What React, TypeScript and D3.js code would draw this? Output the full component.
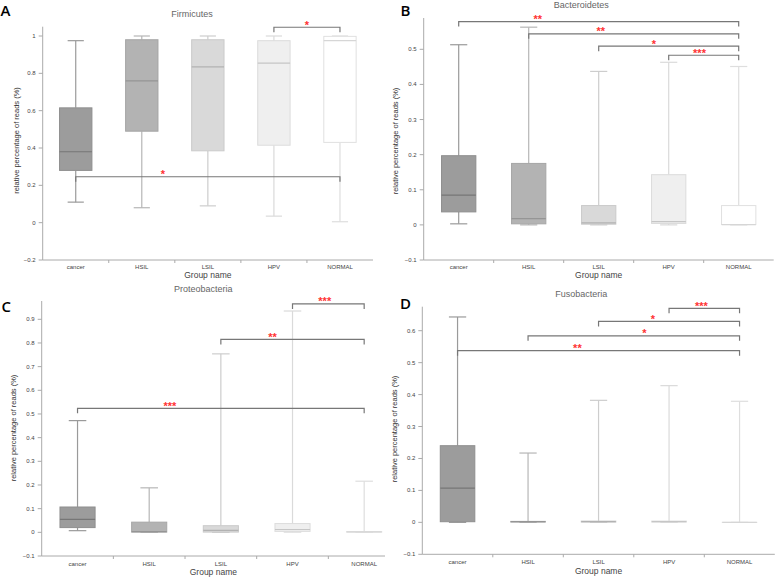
import React from "react";
import * as d3 from "d3";

const groups = ["cancer", "HSIL", "LSIL", "HPV", "NORMAL"];

// [min, q1, median, q3, max] per group
const firmicutesStats = [
  [0.11, 0.28, 0.38, 0.615, 0.975],
  [0.08, 0.49, 0.76, 0.98, 1.0],
  [0.09, 0.385, 0.835, 0.98, 1.0],
  [0.035, 0.415, 0.855, 0.975, 1.0],
  [0.005, 0.43, 0.975, 0.998, 1.0],
];
const bacteroidetesStats = [
  [0.003, 0.037, 0.085, 0.197, 0.513],
  [0.0, 0.003, 0.018, 0.175, 0.563],
  [0.0, 0.002, 0.006, 0.055, 0.437],
  [0.0, 0.004, 0.009, 0.143, 0.463],
  [0.0, 0.001, 0.001, 0.055, 0.451],
];
const proteobacteriaStats = [
  [0.007, 0.02, 0.055, 0.107, 0.472],
  [0.0, 0.001, 0.003, 0.043, 0.188],
  [0.0, 0.001, 0.008, 0.028, 0.754],
  [0.001, 0.004, 0.012, 0.037, 0.935],
  [0.0, 0.001, 0.002, 0.003, 0.216],
];
const fusobacteriaStats = [
  [0.0, 0.002, 0.107, 0.24, 0.643],
  [0.0, 0.001, 0.002, 0.003, 0.217],
  [0.0, 0.001, 0.002, 0.004, 0.382],
  [0.0, 0.001, 0.002, 0.004, 0.428],
  [0.0, 0.0, 0.0, 0.0, 0.379],
];

// significance brackets: from/to group index, bracket value, label, label position (category units)
const firmicutesSig = [
  { from: 3, to: 4, y: 1.047, label: "*", at: 3.5 },
  { from: 0, to: 4, y: 0.246, label: "*", at: 1.32 },
];
const bacteroidetesSig = [
  { from: 0, to: 4, y: 0.579, label: "**", at: 1.13 },
  { from: 1, to: 4, y: 0.544, label: "**", at: 2.03 },
  { from: 2, to: 4, y: 0.509, label: "*", at: 2.79 },
  { from: 3, to: 4, y: 0.483, label: "***", at: 3.44 },
];
const proteobacteriaSig = [
  { from: 3, to: 4, y: 0.965, label: "***", at: 3.45 },
  { from: 2, to: 4, y: 0.815, label: "**", at: 2.72 },
  { from: 0, to: 4, y: 0.524, label: "***", at: 1.29 },
];
const fusobacteriaSig = [
  { from: 3, to: 4, y: 0.67, label: "***", at: 3.46 },
  { from: 2, to: 4, y: 0.629, label: "*", at: 2.77 },
  { from: 1, to: 4, y: 0.584, label: "*", at: 2.65 },
  { from: 0, to: 4, y: 0.5375, label: "**", at: 1.7 },
];

const firmicutesTicks = [-0.2, 0, 0.2, 0.4, 0.6, 0.8, 1];
const bacteroidetesTicks = [-0.1, 0, 0.1, 0.2, 0.3, 0.4, 0.5];
const proteobacteriaTicks = [-0.1, 0, 0.1, 0.2, 0.3, 0.4, 0.5, 0.6, 0.7, 0.8, 0.9];
const fusobacteriaTicks = [-0.1, 0, 0.1, 0.2, 0.3, 0.4, 0.5, 0.6];

const fills = ["#9c9c9c", "#b3b3b3", "#d9d9d9", "#efefef", "#ffffff"];
const strokes = ["#8e8e8e", "#a6a6a6", "#cacaca", "#dcdcdc", "#e0e0e0"];
const medians = ["#767676", "#959595", "#b2b2b2", "#c6c6c6", "#d6d6d6"];
const whiskers = ["#9a9a9a", "#b6b6b6", "#cdcdcd", "#dadada", "#dedede"];

type Sig = { from: number; to: number; y: number; label: string; at: number };

type PanelProps = {
  letter: string;
  title: string;
  stats: number[][];
  sig: Sig[];
  ticks: number[];
  x0: number;
  x1: number;
  axisEnd: number;
  yBottom: number;
  yTopVal: number;
  yTopPx: number;
  spineTop: number;
  letterPos: [number, number];
  titlePos: [number, number];
  ylabelPos: [number, number];
  xlabelY: number;
  catY: number;
};

const FONT = "'Liberation Sans', Arial, sans-serif";

function Panel(p: PanelProps) {
  const x = d3.scaleBand<string>().domain(groups).range([p.x0, p.x1]);
  const xc = d3.scaleLinear().domain([-0.5, groups.length - 0.5]).range([p.x0, p.x1]);
  const y = d3
    .scaleLinear()
    .domain([p.ticks[0], p.yTopVal])
    .range([p.yBottom, p.yTopPx]);
  const bw = x.bandwidth();
  const boxW = bw * 0.49;
  const capW = boxW * 0.5;
  const fmt = (v: number) => (Math.abs(v) < 1e-9 ? "0" : d3.format("")(+v.toFixed(2)));
  const boundaries = groups.slice(1).map((g) => x(g) as number);
  return (
    <g>
      <text x={p.letterPos[0]} y={p.letterPos[1]} fontSize={15} fontFamily="'Open Sans', Arial, sans-serif" fontWeight={600} fill="#000">
        {p.letter}
      </text>
      <text x={p.titlePos[0]} y={p.titlePos[1]} fontSize={9} textAnchor="middle" fontFamily={FONT} fill="#666">
        {p.title}
      </text>
      {/* axes */}
      <line x1={p.x0} x2={p.x0} y1={p.spineTop} y2={p.yBottom} stroke="#aaa" strokeWidth={1} />
      <line x1={p.x0} x2={p.axisEnd} y1={p.yBottom} y2={p.yBottom} stroke="#aaa" strokeWidth={1} />
      {p.ticks.map((t) => (
        <g key={t}>
          <line x1={p.x0 - 4} x2={p.x0} y1={y(t)} y2={y(t)} stroke="#aaa" />
          <text x={p.x0 - 7} y={y(t) + 2} fontSize={6} textAnchor="end" fontFamily={FONT} fill="#444">
            {fmt(t)}
          </text>
        </g>
      ))}
      {boundaries.map((b, i) => (
        <line key={i} x1={b} x2={b} y1={p.yBottom} y2={p.yBottom + 3} stroke="#aaa" />
      ))}
      {groups.map((g) => (
        <text key={g} x={(x(g) as number) + bw / 2} y={p.catY} fontSize={6} textAnchor="middle" fontFamily={FONT} fill="#444">
          {g}
        </text>
      ))}
      <text x={(p.x0 + Math.min(p.x1, p.axisEnd)) / 2} y={p.xlabelY} fontSize={8.5} textAnchor="middle" fontFamily={FONT} fill="#444">
        Group name
      </text>
      <text
        transform={`translate(${p.ylabelPos[0]},${p.ylabelPos[1]}) rotate(-90)`}
        fontSize={7.5}
        textAnchor="middle"
        fontFamily={FONT}
        fill="#333"
      >
        relative percentage of reads (%)
      </text>
      {/* boxes */}
      {groups.map((g, i) => {
        const [mn, q1, md, q3, mx] = p.stats[i];
        const cx = (x(g) as number) + bw / 2;
        return (
          <g key={g}>
            <line x1={cx} x2={cx} y1={y(q3)} y2={y(mx)} stroke={whiskers[i]} strokeWidth={1.2} />
            <line x1={cx} x2={cx} y1={y(q1)} y2={y(mn)} stroke={whiskers[i]} strokeWidth={1.2} />
            <line x1={cx - capW / 2} x2={cx + capW / 2} y1={y(mx)} y2={y(mx)} stroke={whiskers[i]} strokeWidth={1.2} />
            <line x1={cx - capW / 2} x2={cx + capW / 2} y1={y(mn)} y2={y(mn)} stroke={whiskers[i]} strokeWidth={1.2} />
            <rect
              x={cx - boxW / 2}
              y={y(q3)}
              width={boxW}
              height={Math.max(0.01, y(q1) - y(q3))}
              fill={fills[i]}
              stroke={strokes[i]}
              strokeWidth={1}
            />
            <line x1={cx - boxW / 2} x2={cx + boxW / 2} y1={y(md)} y2={y(md)} stroke={medians[i]} strokeWidth={1.2} />
          </g>
        );
      })}
      {/* significance */}
      {p.sig.map((s, k) => {
        const xa = xc(s.from);
        const xb = xc(s.to);
        const yy = y(s.y);
        return (
          <g key={k}>
            <path d={`M${xa},${yy + 5}V${yy}H${xb}V${yy + 5}`} fill="none" stroke="#777" strokeWidth={1.2} />
            <text x={xc(s.at)} y={yy + 1.5} fontSize={11} fontWeight={700} textAnchor="middle" fontFamily={FONT} fill="#ff3333">
              {s.label}
            </text>
          </g>
        );
      })}
    </g>
  );
}

export default function App() {
  return (
    <svg width={778} height={579} style={{ position: "absolute", left: 0, top: 0, background: "#fff" }}>
      <rect width={778} height={579} fill="#fff" />
      <Panel
        letter="A"
        title="Firmicutes"
        stats={firmicutesStats}
        sig={firmicutesSig}
        ticks={firmicutesTicks}
        x0={42.7}
        x1={373}
        axisEnd={373}
        yBottom={260}
        yTopVal={1}
        yTopPx={36}
        spineTop={26.7}
        letterPos={[0.5, 16]}
        titlePos={[192, 17]}
        ylabelPos={[18.5, 140.5]}
        xlabelY={278}
        catY={268.5}
      />
      <Panel
        letter="B"
        title="Bacteroidetes"
        stats={bacteroidetesStats}
        sig={bacteroidetesSig}
        ticks={bacteroidetesTicks}
        x0={423.7}
        x1={773.7}
        axisEnd={773.7}
        yBottom={260}
        yTopVal={0.5}
        yTopPx={49.3}
        spineTop={18}
        letterPos={[400.5, 16]}
        titlePos={[581.3, 8]}
        ylabelPos={[397.8, 141]}
        xlabelY={278}
        catY={268.5}
      />
      <Panel
        letter="C"
        title="Proteobacteria"
        stats={proteobacteriaStats}
        sig={proteobacteriaSig}
        ticks={proteobacteriaTicks}
        x0={41.7}
        x1={400}
        axisEnd={385}
        yBottom={556}
        yTopVal={0.9}
        yTopPx={319.3}
        spineTop={301}
        letterPos={[1.5, 311.5]}
        titlePos={[203.3, 291.5]}
        ylabelPos={[15.8, 428]}
        xlabelY={575}
        catY={565.5}
      />
      <Panel
        letter="D"
        title="Fusobacteria"
        stats={fusobacteriaStats}
        sig={fusobacteriaSig}
        ticks={fusobacteriaTicks}
        x0={422.3}
        x1={774.8}
        axisEnd={774.8}
        yBottom={554.3}
        yTopVal={0.6}
        yTopPx={330.7}
        spineTop={306.7}
        letterPos={[400, 308.5]}
        titlePos={[581.3, 297]}
        ylabelPos={[397.2, 429]}
        xlabelY={574}
        catY={564}
      />
    </svg>
  );
}
